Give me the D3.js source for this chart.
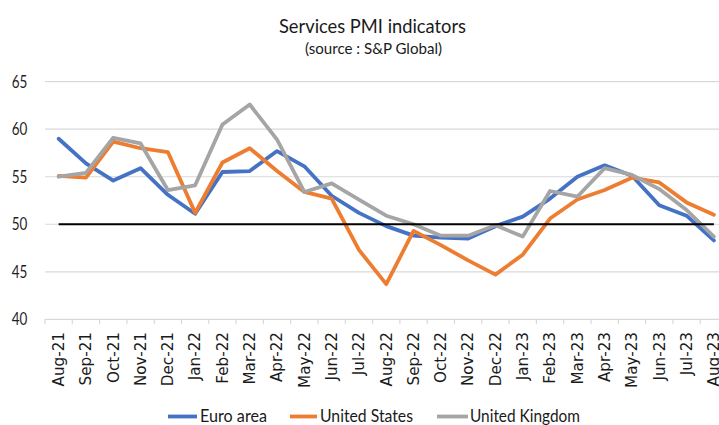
<!DOCTYPE html>
<html>
<head>
<meta charset="utf-8">
<script src="https://cdn.jsdelivr.net/npm/d3@7"></script>
<style>
  html, body { margin: 0; padding: 0; background: #fff; }
  svg { display: block; }
</style>
</head>
<body>
<svg id="chart" width="719" height="425"></svg>
<script>
const categories = ["Aug-21","Sep-21","Oct-21","Nov-21","Dec-21","Jan-22","Feb-22","Mar-22","Apr-22","May-22","Jun-22","Jul-22","Aug-22","Sep-22","Oct-22","Nov-22","Dec-22","Jan-23","Feb-23","Mar-23","Apr-23","May-23","Jun-23","Jul-23","Aug-23"];
const euroArea = [59.0,56.4,54.6,55.9,53.1,51.1,55.5,55.6,57.7,56.1,53.0,51.2,49.8,48.8,48.6,48.5,49.8,50.8,52.7,55.0,56.2,55.1,52.0,50.9,48.3];
const unitedStates = [55.1,54.9,58.7,58.0,57.6,51.2,56.5,58.0,55.6,53.4,52.7,47.3,43.7,49.3,47.8,46.2,44.7,46.8,50.6,52.6,53.6,54.9,54.4,52.3,51.0];
const unitedKingdom = [55.0,55.4,59.1,58.5,53.6,54.1,60.5,62.6,58.9,53.4,54.3,52.6,50.9,50.0,48.8,48.8,49.9,48.7,53.5,52.9,55.9,55.2,53.7,51.5,48.7];
const threshold = categories.map(() => 50);
const yTicks = [40,45,50,55,60,65];
const seriesNames = ["Euro area","United States","United Kingdom"];
const titleText = "Services PMI indicators";
const subtitleText = "(source : S&P Global)";

const colors = ["#4472C4","#ED7D31","#A5A5A5"];
const svg = d3.select("#chart");
const plotLeft = 45, step = 27.3;
const plotTop = 81.7, plotBottom = 319.3;

const x = d3.scaleBand().domain(categories).range([plotLeft, plotLeft + step * categories.length]).padding(0);
const y = d3.scaleLinear().domain([40, 65]).range([plotBottom, plotTop]);
const cx = d => x(d) + x.bandwidth() / 2;

// gridlines
svg.append("g").selectAll("line").data(yTicks).join("line")
  .attr("x1", plotLeft).attr("x2", x.range()[1])
  .attr("y1", d => y(d)).attr("y2", d => y(d))
  .attr("stroke", "#d9d9d9").attr("stroke-width", 1.2);

// x axis ticks at band boundaries
const bounds = categories.map(c => x(c)).concat([x.range()[1]]);
svg.append("g").selectAll("line").data(bounds).join("line")
  .attr("x1", d => d).attr("x2", d => d)
  .attr("y1", plotBottom).attr("y2", plotBottom + 5)
  .attr("stroke", "#d9d9d9").attr("stroke-width", 1.2);

// y labels
svg.append("g").selectAll("text").data(yTicks).join("text")
  .attr("x", 27.3).attr("y", d => y(d)).attr("dy", "0.36em")
  .attr("text-anchor", "end")
  .attr("font-family", "Lato, 'Open Sans', sans-serif")
  .attr("font-size", 16.5).attr("fill", "#1f1f1f")
  .attr("textLength", 15.6).attr("lengthAdjust", "spacingAndGlyphs")
  .text(d => d);

// x labels
svg.append("g").selectAll("text").data(categories).join("text")
  .attr("transform", d => `translate(${cx(d)},332) rotate(-90)`)
  .attr("dy", "0.35em")
  .attr("text-anchor", "end")
  .attr("font-family", "'DejaVu Sans', Verdana, sans-serif")
  .attr("font-size", 15.2).attr("fill", "#1a1a1a")
  .text(d => d);

// lines
const line = d3.line().x((d, i) => cx(categories[i])).y(d => y(d));
[euroArea, unitedStates, unitedKingdom].forEach((s, i) => {
  svg.append("path").datum(s)
    .attr("d", line).attr("fill", "none")
    .attr("stroke", colors[i]).attr("stroke-width", 3.8)
    .attr("stroke-linejoin", "round").attr("stroke-linecap", "round");
});
// 50 line
svg.append("path").datum(threshold)
  .attr("d", line).attr("fill", "none")
  .attr("stroke", "#000").attr("stroke-width", 2.2);

// title
svg.append("text").attr("x", 372.5).attr("y", 32.7).attr("text-anchor", "middle")
  .attr("font-family", "Lato, 'Open Sans', sans-serif").attr("font-size", 20).attr("fill", "#1a1a1a")
  .attr("textLength", 187).attr("lengthAdjust", "spacingAndGlyphs")
  .text(titleText);
svg.append("text").attr("x", 373.5).attr("y", 53.5).attr("text-anchor", "middle")
  .attr("font-family", "Lato, 'Open Sans', sans-serif").attr("font-size", 15).attr("fill", "#1a1a1a")
  .attr("textLength", 137).attr("lengthAdjust", "spacingAndGlyphs")
  .text(subtitleText);

// legend
const legendItems = [
  {lx1: 168, lx2: 197, tx: 200, tw: 67},
  {lx1: 290, lx2: 317, tx: 320, tw: 93},
  {lx1: 437, lx2: 468, tx: 470, tw: 110}
];
const lg = svg.append("g");
seriesNames.forEach((name, i) => {
  const it = legendItems[i];
  lg.append("line").attr("x1", it.lx1).attr("x2", it.lx2).attr("y1", 416.5).attr("y2", 416.5)
    .attr("stroke", colors[i]).attr("stroke-width", 3.8);
  lg.append("text").attr("x", it.tx).attr("y", 421.8)
    .attr("font-family", "Lato, 'Open Sans', sans-serif").attr("font-size", 16.5).attr("fill", "#1a1a1a")
    .attr("textLength", it.tw).attr("lengthAdjust", "spacingAndGlyphs")
    .text(name);
});
</script>
</body>
</html>
